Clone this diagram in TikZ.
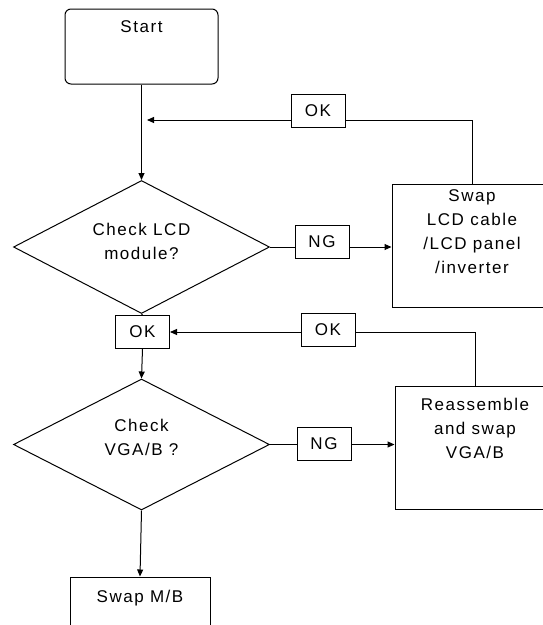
\documentclass[tikz,border=0pt]{standalone}
\usepackage{fontspec}
\setmainfont{Liberation Sans}[LetterSpace=9]
\usetikzlibrary{shapes.geometric,arrows.meta}
\begin{document}
\begin{tikzpicture}[x=1pt,y=-1pt,
 line width=1pt,
 every node/.style={font=\fontsize{17}{24}\selectfont},
 box/.style={draw, rectangle, inner sep=0pt},
 tag/.style={draw, rectangle, minimum width=54pt, minimum height=33pt, inner sep=0pt},
 dec/.style={draw, diamond, inner sep=0pt, aspect=2},
 txt/.style={align=center, inner sep=0pt},
 arr/.style={-{Triangle[length=7pt,width=6pt]}}]
\useasboundingbox (0,0) rectangle (542,625);
% main boxes
\node[box, rounded corners=6pt, minimum width=153pt, minimum height=75pt] (start) at (141.5,46.5) {};
\node[txt, anchor=north] (startt) at (141.5,20) {Start};
\node[dec, minimum width=256pt, minimum height=133pt] (d1) at (141.5,247) {};
\node[txt, anchor=north] (d1t) at (141.5,222.5) {Check LCD\\module?};
\node[box, minimum width=160pt, minimum height=123pt] (s1) at (472,245.5) {};
\node[txt, anchor=north] (s1t) at (472,189.5) {Swap\\LCD cable\\/LCD panel\\/inverter};
\node[dec, minimum width=256pt, minimum height=131pt] (d2) at (141.5,444.5) {};
\node[txt, anchor=north] (d2t) at (141.5,419) {Check\\VGA/B ?};
\node[box, minimum width=160pt, minimum height=123pt] (s2) at (475,447.5) {};
\node[txt, anchor=north] (s2t) at (475,398) {Reassemble\\and swap\\VGA/B};
\node[box, minimum width=140pt, minimum height=66pt] (mb) at (140,610) {};
\node[txt, anchor=north] (mbt) at (140,589.5) {Swap M/B};
% tags
\node[tag] (ok1) at (318,110.5) {OK};
\node[tag] (ng1) at (322,242) {NG};
\node[tag] (ok2) at (142.5,332) {OK};
\node[tag] (ok3) at (328,330) {OK};
\node[tag] (ng2) at (324,444) {NG};
% connectors
\coordinate (j1) at (147,120);
\draw[arr] (start.south) -- (d1.north);
\draw (s1.north) |- (ok1.east |- j1);
\draw[arr] (ok1.west |- j1) -- (j1);
\draw (d1.east) -- (ng1.west |- d1.east);
\draw[arr] (ng1.east |- d1.east) -- (s1.west |- d1.east);
\draw (d1.south) -- (ok2.north);
\draw[arr] (ok2.south) -- (d2.north);
\draw (s2.north) |- (ok3.east |- ok2.east);
\draw[arr] (ok3.west |- ok2.east) -- (ok2.east);
\draw (d2.east) -- (ng2.west |- d2.east);
\draw[arr] (ng2.east |- d2.east) -- (s2.west |- d2.east);
\draw[arr] (d2.south) -- (mb.north);
\end{tikzpicture}
\end{document}
